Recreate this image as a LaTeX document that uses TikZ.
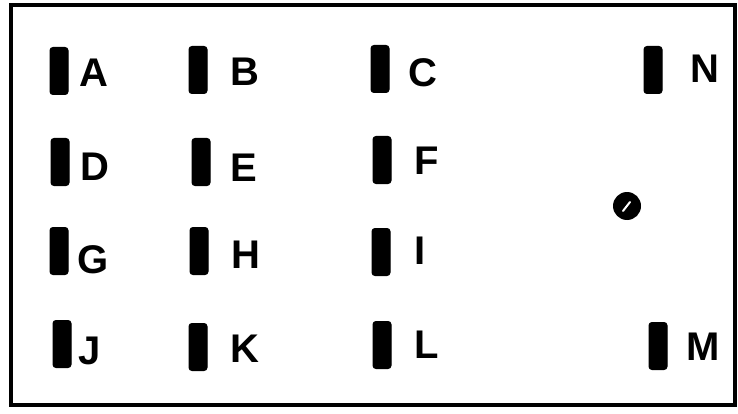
\documentclass[tikz,border=0pt]{standalone}
\usepackage{fontspec}
\setmainfont{Liberation Sans}
\begin{document}
\begin{tikzpicture}[x=1pt,y=-1pt,
  barbox/.style={draw=black,fill=black,rounded corners=3pt,minimum width=18pt,minimum height=47pt,inner sep=0pt,line width=1pt},
  lbl/.style={font=\fontsize{40}{44}\selectfont\bfseries,inner sep=0pt,anchor=center},
  frame/.style={draw=black,line width=4.5pt}]
\useasboundingbox (0,0) rectangle (738,414);
\draw[frame] (11,5) rectangle (735,405);
% bars
\foreach \n/\x/\y in {A/59/71,B/198/70,C/380/69,N/653/70,D/60/162,E/201/162,F/382/160,G/59/251,H/199/251,I/381/252,J/62/344,K/198/347,L/382/345,M/658/346}
  \node[barbox] (bar\n) at (\x,\y) {};
% letters
\foreach \n/\x/\y in {A/94/73,B/245/72,C/423/73,N/705/69,D/95/167,E/244/168,F/427/161,G/93/260,H/246/255,I/420/251,J/90/351,K/245/349,L/427/345,M/703/347}
  \node[lbl] (lbl\n) at (\x,\y) {\n};
% dot
\node[circle,fill=black,minimum size=28pt,inner sep=0pt] (dot) at (627,206) {};
\draw[white,line width=2pt,line cap=round] ([shift={(-4pt,-5pt)}]dot.center) -- ([shift={(3pt,4pt)}]dot.center);
\end{tikzpicture}
\end{document}
